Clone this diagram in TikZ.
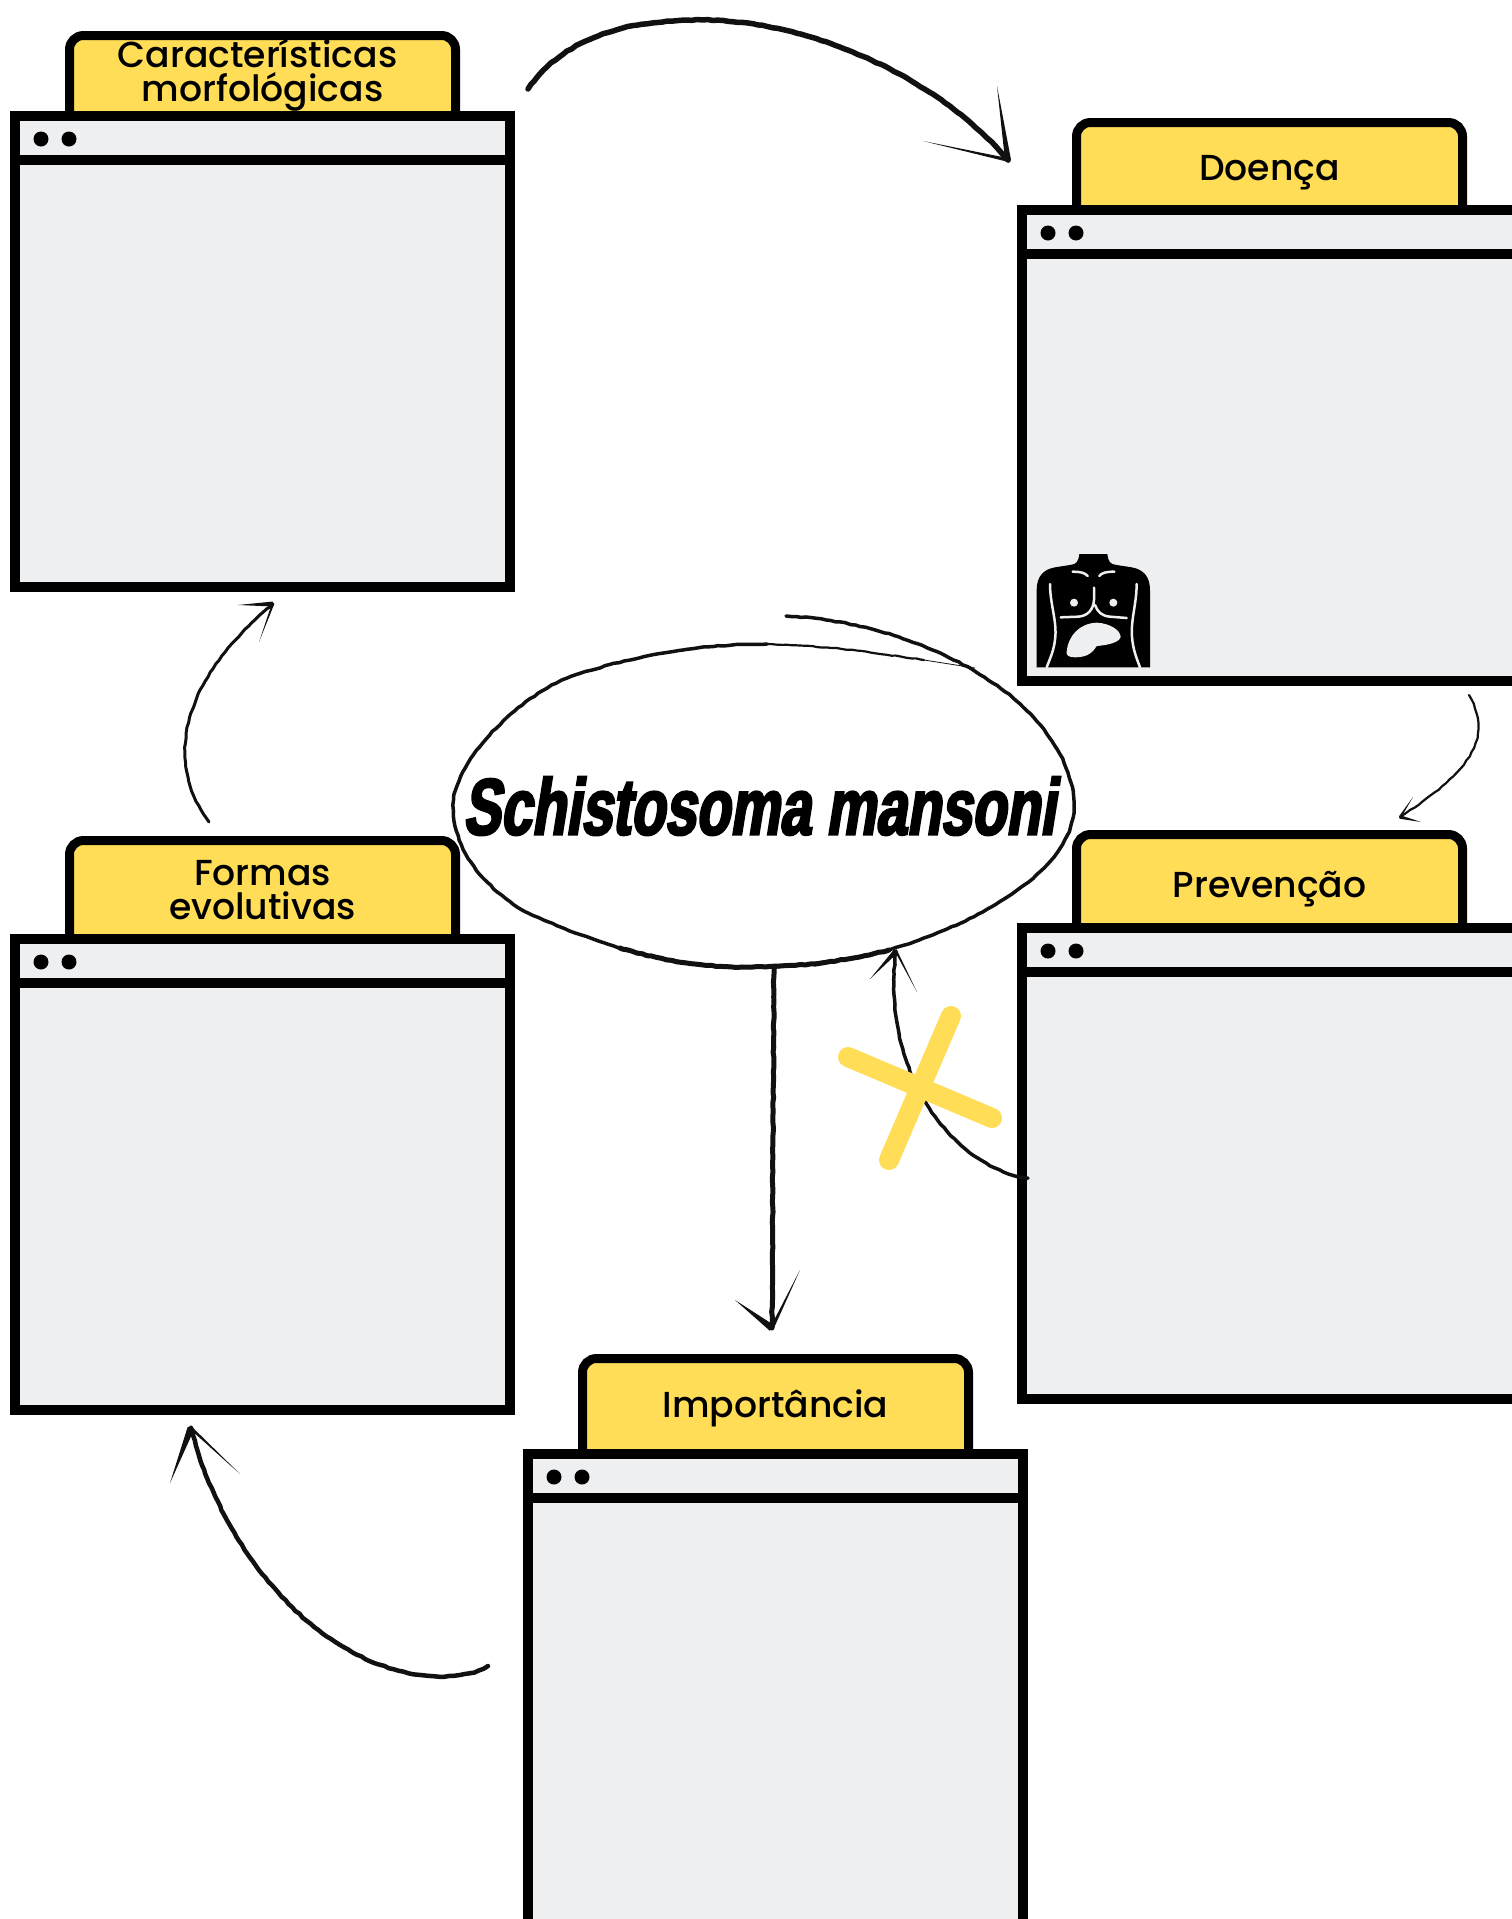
\documentclass[tikz,border=0pt]{standalone}
\usepackage{fontspec}
\usetikzlibrary{calc,decorations.pathmorphing}
\newfontfamily\tabfont{Poppins Medium}
\newfontfamily\titlefont[FakeStretch=0.70,FakeSlant=0.16,FakeBold=3]{Liberation Sans Bold}
\definecolor{tabyellow}{HTML}{FFDD57}
\definecolor{panelgray}{HTML}{EEEFF1}
\definecolor{inkblack}{HTML}{111111}
\tikzset{
  panel/.style={draw=black,fill=panelgray,line width=10bp,rectangle,inner sep=0pt,outer sep=0pt,
    minimum width=495bp,minimum height=471bp,anchor=north west},
  tabshape/.style={draw=black,fill=tabyellow,line width=9bp,rounded corners=14bp},
  tablabel/.style={font=\tabfont\fontsize{36.3}{34}\selectfont,text=black,align=center,inner sep=0pt,anchor=center},
  sep/.style={draw=black,line width=10bp},
  sketch/.style={draw=inkblack,line cap=round,line join=round,decorate,
    decoration={random steps,segment length=5bp,amplitude=0.5bp}},
  titlelabel/.style={font=\titlefont\fontsize{80}{80}\selectfont,text=black,inner sep=0pt,anchor=center},
  crossbar/.style={draw=tabyellow,line width=20bp,line cap=round},
  organ/.style={draw=panelgray,line width=2.5bp,line cap=round}
}
\newcommand{\winbox}[6]{% name, outer x, outer y, tab height, label y, label
  \path[tabshape] (#2+59.5,#3+5) -- (#2+59.5,#3-#4+4.5) -- (#2+445.5,#3-#4+4.5) -- (#2+445.5,#3+5);
  \node[panel] (#1) at (#2+5,#3+5) {};
  \draw[sep] (#1.north west)++(0,44) -- ++(495,0);
  \fill (#1.north west)++(26,23) circle (7.5bp);
  \fill (#1.north west)++(54,23) circle (7.5bp);
  \node[tablabel] (#1label) at (#2+252.5,#5) {#6};
}
\newcommand{\barb}[3]{% tip, end, half width
  \fill[inkblack] ($(#1)!#3!90:(#2)$) -- (#2) -- ($(#1)!#3!-90:(#2)$) -- cycle;
}
\pgfmathsetseed{42}
\begin{document}
\begin{tikzpicture}[x=1bp,y=-1bp]
\path[use as bounding box,clip] (0,0) rectangle (1512,1919);
\fill[white] (0,0) rectangle (1512,1919);

\winbox{morf}{10}{111}{80}{75}{Características\hspace*{10pt}\\morfológicas}
\winbox{doenca}{1017}{205}{87}{173}{Doença}
\winbox{prev}{1017}{923}{93}{889}{Prevenção}
\winbox{formas}{10}{934}{98}{890}{Formas\\evolutivas}
\winbox{imp}{523}{1449}{95}{1408}{Importância}

% liver icon
\begin{scope}[shift={(1000,520)},scale=0.33333]
  \fill[black] (238,102) -- (322,102) .. controls (325,125) and (330,133) .. (350,135) -- (395,142)
    .. controls (430,148) and (450,170) .. (450,210) -- (450,442) -- (110,442) -- (110,210)
    .. controls (110,170) and (130,148) .. (165,142) -- (210,135) .. controls (230,133) and (235,125) .. (238,102) -- cycle;
  \draw[organ] (218,155) .. controls (240,155) and (255,158) .. (263,168);
  \draw[organ] (343,155) .. controls (320,155) and (305,158) .. (298,168);
  \draw[organ] (150,192) .. controls (150,250) and (170,300) .. (166,350) .. controls (163,390) and (150,415) .. (140,442);
  \draw[organ] (410,192) .. controls (410,250) and (392,300) .. (396,350) .. controls (399,390) and (410,415) .. (420,442);
  \draw[organ] (282,203) -- (282,240) .. controls (280,270) and (262,288) .. (235,290) -- (182,292);
  \draw[organ] (285,255) .. controls (292,275) and (305,288) .. (330,290) -- (380,294);
  \fill[panelgray] (222,248) circle (12bp) (340,248) circle (12bp);
  \fill[panelgray] (200,395) .. controls (205,345) and (240,310) .. (290,308)
    .. controls (330,310) and (360,330) .. (362,350) .. controls (360,365) and (330,375) .. (290,378)
    .. controls (280,395) and (265,412) .. (225,412) .. controls (205,412) and (198,405) .. (200,395) -- cycle;
\end{scope}

% title oval
\draw[sketch,line width=3.5bp] (786,616) .. controls (869,620) and (954,650) .. (1012,697)
  .. controls (1046,725) and (1074,765) .. (1074,807)
  .. controls (1074,860) and (1003,915) .. (889,950)
  .. controls (838,963) and (795,967) .. (746,967)
  .. controls (660,967) and (587,940) .. (522,910)
  .. controls (483,885) and (453,850) .. (453,805)
  .. controls (453,770) and (501,710) .. (562,680)
  .. controls (624,657) and (697,644) .. (767,644);
\draw[sketch,line width=5bp] (889,950) .. controls (838,963) and (795,967) .. (746,967)
  .. controls (700,967) and (660,960) .. (620,948);
\draw[sketch,line width=2.2bp] (767,644) .. controls (820,645) and (869,652) .. (924,660);
\draw[inkblack,line width=0.8bp] (924,660) -- (975,668);
\node[titlelabel] (title) at (759,806) {Schistosoma mansoni};

% named connector ends
\coordinate (a1s) at (528,89);   \coordinate (a1t) at (1008,160);
\coordinate (a1m) at (703,20);   \coordinate (a1b) at (997,86);   \coordinate (a1c) at (923,141);
\coordinate (a2s) at (209,822);  \coordinate (a2t) at (273,604);
\coordinate (a2b) at (238,605);  \coordinate (a2c) at (259,642);
\coordinate (a3s) at (774,967);  \coordinate (a3t) at (772,1328);
\coordinate (a3b) at (735,1300); \coordinate (a3c) at (800,1270);
\coordinate (a4s) at (488,1666); \coordinate (a4m) at (433,1676); \coordinate (a4t) at (191,1428);
\coordinate (a4b) at (170,1483); \coordinate (a4c) at (240,1474);
\coordinate (a5s) at (1469,695); \coordinate (a5t) at (1400,817);
\coordinate (a5b) at (1413,797); \coordinate (a5c) at (1421,822);
\coordinate (a6s) at (1028,1178);\coordinate (a6t) at (896,951);
\coordinate (a6b) at (870,979);  \coordinate (a6c) at (917,992);

% connectors
\draw[sketch,line width=5.5bp] (a1s) .. controls (570,30) and (640,20) .. (a1m) .. controls (800,20) and (930,70) .. (a1t);
\barb{a1t}{a1b}{3bp}\barb{a1t}{a1c}{1.8bp}
\draw[sketch,line width=3bp] (a2s) .. controls (170,770) and (170,690) .. (a2t);
\barb{a2t}{a2b}{2.5bp}\barb{a2t}{a2c}{1.2bp}
\draw[sketch,line width=5bp] (a3s) -- (a3t);
\barb{a3t}{a3b}{3.5bp}\barb{a3t}{a3c}{1.8bp}
\draw[sketch,line width=4.5bp] (a4s) .. controls (470,1676) and (450,1677) .. (a4m) .. controls (325,1670) and (225,1560) .. (a4t);
\barb{a4t}{a4b}{3.5bp}\barb{a4t}{a4c}{1.5bp}
\draw[sketch,line width=2.2bp] (a5s) .. controls (1495,740) and (1465,775) .. (a5t);
\barb{a5t}{a5b}{1.2bp}\barb{a5t}{a5c}{1.8bp}
\draw[sketch,line width=3.5bp] (a6s) .. controls (960,1170) and (880,1080) .. (a6t);
\barb{a6t}{a6b}{2.5bp}\barb{a6t}{a6c}{1.2bp}

% yellow cross
\draw[crossbar] (848,1057) -- (992,1118);
\draw[crossbar] (951,1016) -- (889,1160);
\end{tikzpicture}
\end{document}
